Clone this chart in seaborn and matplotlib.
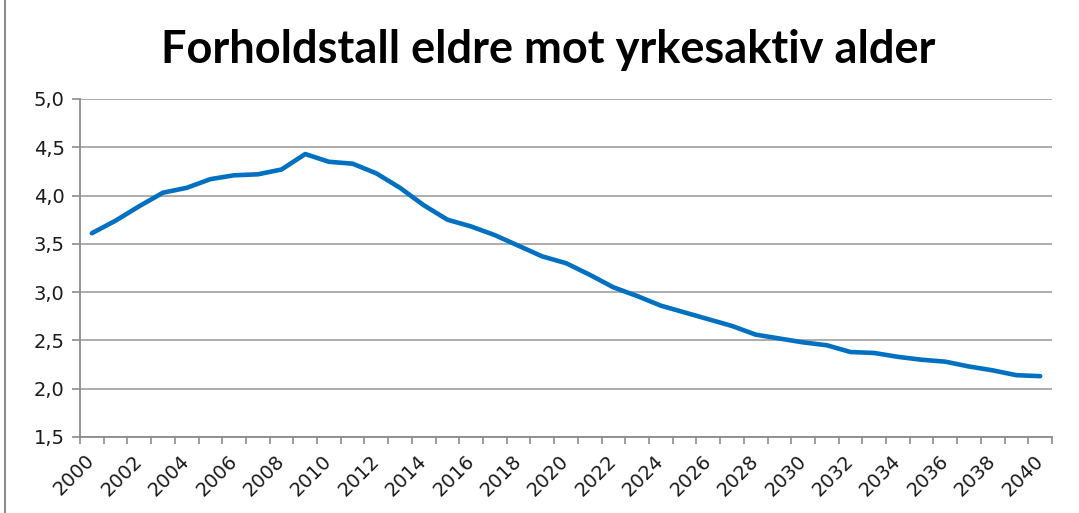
import matplotlib
matplotlib.use("Agg")
import matplotlib.pyplot as plt
import seaborn as sns
import pandas as pd
import numpy as np
from matplotlib.lines import Line2D
from matplotlib.ticker import FuncFormatter

years = list(range(2000, 2041))
ratio = [3.61, 3.74, 3.89, 4.03, 4.08, 4.17, 4.21, 4.22, 4.27, 4.43,
         4.35, 4.33, 4.23, 4.08, 3.90, 3.75, 3.68, 3.59, 3.48, 3.37,
         3.30, 3.18, 3.05, 2.96, 2.86, 2.79, 2.72, 2.65, 2.56, 2.52,
         2.48, 2.45, 2.38, 2.37, 2.33, 2.30, 2.28, 2.23, 2.19, 2.14,
         2.13]
title = "Forholdstall eldre mot yrkesaktiv alder"
yticks = [1.5, 2.0, 2.5, 3.0, 3.5, 4.0, 4.5, 5.0]

df = pd.DataFrame({"idx": np.arange(len(years)), "year": years, "ratio": ratio})

sns.set_theme(style="white")
plt.rcParams['font.family'] = ['DejaVu Sans']

fig = plt.figure(figsize=(10.79, 5.13), dpi=100)
ax = fig.add_axes([80/1079, 1-437/513, (1052-80)/1079, (437-99)/513])

sns.lineplot(data=df, x="idx", y="ratio", ax=ax, color="#0070C0", linewidth=3.3)

ax.set_xlim(-0.5, len(years) - 0.5)
ax.set_ylim(1.5, 5.0)
ax.set_yticks(yticks)
ax.yaxis.set_major_formatter(FuncFormatter(lambda v, p: f"{v:.1f}".replace(".", ",")))
ax.grid(axis="y", color="#a6a6a6", linewidth=1.3)
ax.set_axisbelow(True)

ax.set_xticks(df["idx"][::2])
ax.set_xticklabels([str(y) for y in years[::2]], rotation=45, ha="right", va="center",
                   rotation_mode="anchor", fontsize=14, color="#1a1a1a")
ax.set_xticks(np.arange(-0.5, len(years)), minor=True)
ax.tick_params(axis="x", which="major", length=0, pad=15)
ax.tick_params(axis="x", which="minor", length=5, width=1.2, color="#8c8c8c", bottom=True)
ax.tick_params(axis="y", which="major", length=6, width=1.2, color="#8c8c8c", left=True,
               labelsize=14, labelcolor="#1a1a1a", pad=5)

for s in ["top", "right"]:
    ax.spines[s].set_visible(False)
for s in ["left", "bottom"]:
    ax.spines[s].set_color("#8c8c8c")
    ax.spines[s].set_linewidth(1.3)

ax.set_xlabel("")
ax.set_ylabel("")

fig.text(0.508, 1-50/513, title, ha="center", va="center", fontsize=32.5,
         fontweight="bold", family=["Lato", "DejaVu Sans"], color="black")

fig.add_artist(Line2D([5/1079, 5/1079], [0, 1], transform=fig.transFigure,
                      color="#8c8c8c", linewidth=1.5))

fig.savefig("out.png", dpi=100, facecolor="white")
